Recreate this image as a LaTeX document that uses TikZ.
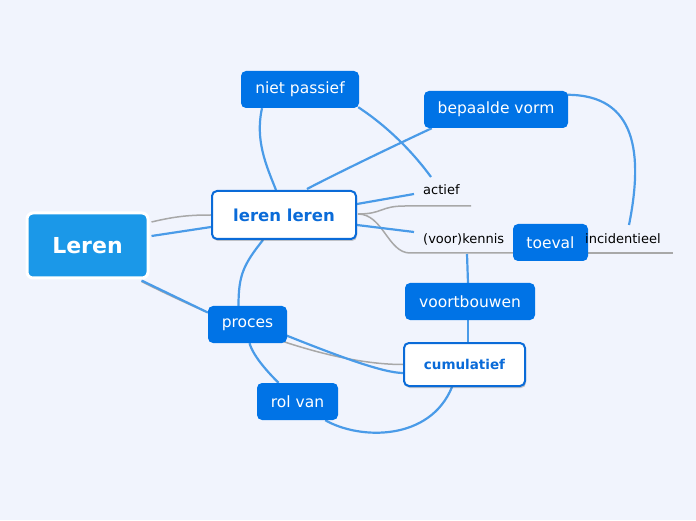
\documentclass[tikz,border=0pt]{standalone}
\usepackage{fontspec}
\setmainfont{DejaVu Sans}
\usetikzlibrary{calc,shadows}
\pgfdeclarelayer{bgfill}
\pgfdeclarelayer{lines}
\pgfsetlayers{bgfill,lines,main}
\definecolor{bgc}{RGB}{241,244,253}
\definecolor{boxblue}{RGB}{0,115,230}
\definecolor{rootblue}{RGB}{27,152,232}
\definecolor{lineblue}{RGB}{74,155,232}
\definecolor{linegray}{RGB}{168,168,168}
\definecolor{txtblue}{RGB}{10,107,216}
\tikzset{
  bluebox/.style={fill=boxblue, draw=none, rounded corners=5pt, text=white,
    font=\fontsize{15.5}{18}\selectfont, inner sep=0pt},
  whitebox/.style={fill=white, draw=txtblue, line width=2pt, rounded corners=5pt,
    text=txtblue, inner sep=0pt,
    drop shadow={opacity=0.3, shadow xshift=1pt, shadow yshift=-2pt, fill=black!70}},
  rootbox/.style={fill=rootblue, draw=white, line width=3pt, rounded corners=6pt,
    text=white, font=\fontsize{22}{26}\selectfont\bfseries, inner sep=0pt},
  plain/.style={anchor=west, inner sep=0pt, text=black, font=\fontsize{13}{15}\selectfont},
  rel/.style={draw=lineblue, line width=2.2pt},
  tree/.style={draw=linegray, line width=1.5pt},
}
\begin{document}
\begin{tikzpicture}[x=1pt,y=1pt]
\begin{pgfonlayer}{bgfill}
\useasboundingbox[fill=bgc] (0,0) rectangle (696,520);
\end{pgfonlayer}

% nodes
\node[rootbox, minimum width=121pt, minimum height=65pt] (L) at (87.5,274.5) {Leren};
\node[whitebox, minimum width=144pt, minimum height=48pt, font=\fontsize{16.5}{19}\selectfont\bfseries] (ll) at (284,305) {leren leren};
\node[bluebox, minimum width=118pt, minimum height=37pt] (np) at (300,430.5) {niet passief};
\node[bluebox, minimum width=144pt, minimum height=37pt] (bv) at (496,410.5) {bepaalde vorm};
\node[bluebox, minimum width=75pt, minimum height=37pt] (toe) at (550.5,277.5) {toeval};
\node[plain] (act) at (423,330) {actief};
\node[plain] (ken) at (423,281) {(voor)kennis};
\node[plain] (inc) at (585,281) {incidentieel};
\node[bluebox, minimum width=130pt, minimum height=37pt] (voort) at (470,218.5) {voortbouwen};
\node[whitebox, minimum width=121pt, minimum height=43pt, font=\fontsize{13.5}{16}\selectfont\bfseries] (cum) at (464.5,155.5) {cumulatief};
\node[bluebox, minimum width=79pt, minimum height=37pt] (proc) at (247.5,195.5) {proces};
\node[bluebox, minimum width=81pt, minimum height=37pt] (rol) at (297.5,118.5) {rol van};

\coordinate (actU) at (405,314);
\coordinate (actE) at (471,314);
\coordinate (actL) at (414,326);
\coordinate (actT) at (431,343);
\coordinate (kenU) at (410,267);
\coordinate (kenE) at (520,267);
\coordinate (kenL) at (414,288);
\coordinate (kenV) at (467,266);
\coordinate (incU) at (585,267);
\coordinate (incE) at (673,267);
\coordinate (incT) at (629,295);

\begin{pgfonlayer}{lines}
% tree (gray) lines
\draw[tree] ($(L.east)+(2,23.5)$) .. controls +(25,6) and +(-20,0) .. (ll.west);
\draw[tree] ($(ll.east)+(1,1)$) .. controls +(25,0) and +(-25,0) .. (actU) -- (actE);
\draw[tree] ($(ll.east)+(1,1)$) .. controls +(25,0) and +(-22,0) .. (kenU) -- (kenE);
\draw[tree] (incU) -- (incE);
\draw[tree] ($(L.south east)+(-8,-2)$) .. controls +(90,-45) and +(-74,0) .. (cum.west);

% relation (blue) lines
\draw[rel] ($(L.east)+(2,9.5)$) -- ($(ll.west)+(0,-12)$);
\draw[rel] ($(L.south east)+(-8,-1)$) -- ($(proc.west)+(0,12)$);
\draw[rel] ($(proc.east)+(-2,-10.5)$) .. controls +(50,-20) and +(-20,0) .. ($(cum.west)+(0,-8.5)$);
\draw[rel] ($(ll.south)+(-21,0)$) .. controls +(-20,-25) and +(0,30) .. ($(proc.north)+(-9,0)$);
\draw[rel] ($(proc.south)+(2,0)$) .. controls +(4,-14) and +(-8,8) .. ($(rol.north)+(-19,0)$);
\draw[rel] ($(rol.south east)+(-13,0)$) .. controls +(35,-20) and +(-22,-54) .. ($(cum.south)+(-12.5,0)$);
\draw[rel] ($(np.south)+(-38,0)$) .. controls +(-7,-32) and +(-10,25) .. ($(ll.north)+(-8,0)$);
\draw[rel] ($(np.south east)+(-1,1)$) .. controls +(32,-21) and +(-16,22) .. (actT);
\draw[rel] ($(bv.south west)+(8,0)$) .. controls +(-60,-28) and +(15,8) .. ($(ll.north)+(23,1)$);
\draw[rel] ($(ll.east)+(0,11)$) -- (actL);
\draw[rel] ($(ll.east)+(0,-10)$) -- (kenL);
\draw[rel] ($(bv.north east)+(-1,-4)$) .. controls +(70,0) and +(14,70) .. (incT);
\draw[rel] (kenV) -- ($(voort.north)+(-2,0)$);
\draw[rel] ($(voort.south)+(-2,0)$) -- ($(cum.north)+(3.5,0)$);
\end{pgfonlayer}
\end{tikzpicture}
\end{document}
